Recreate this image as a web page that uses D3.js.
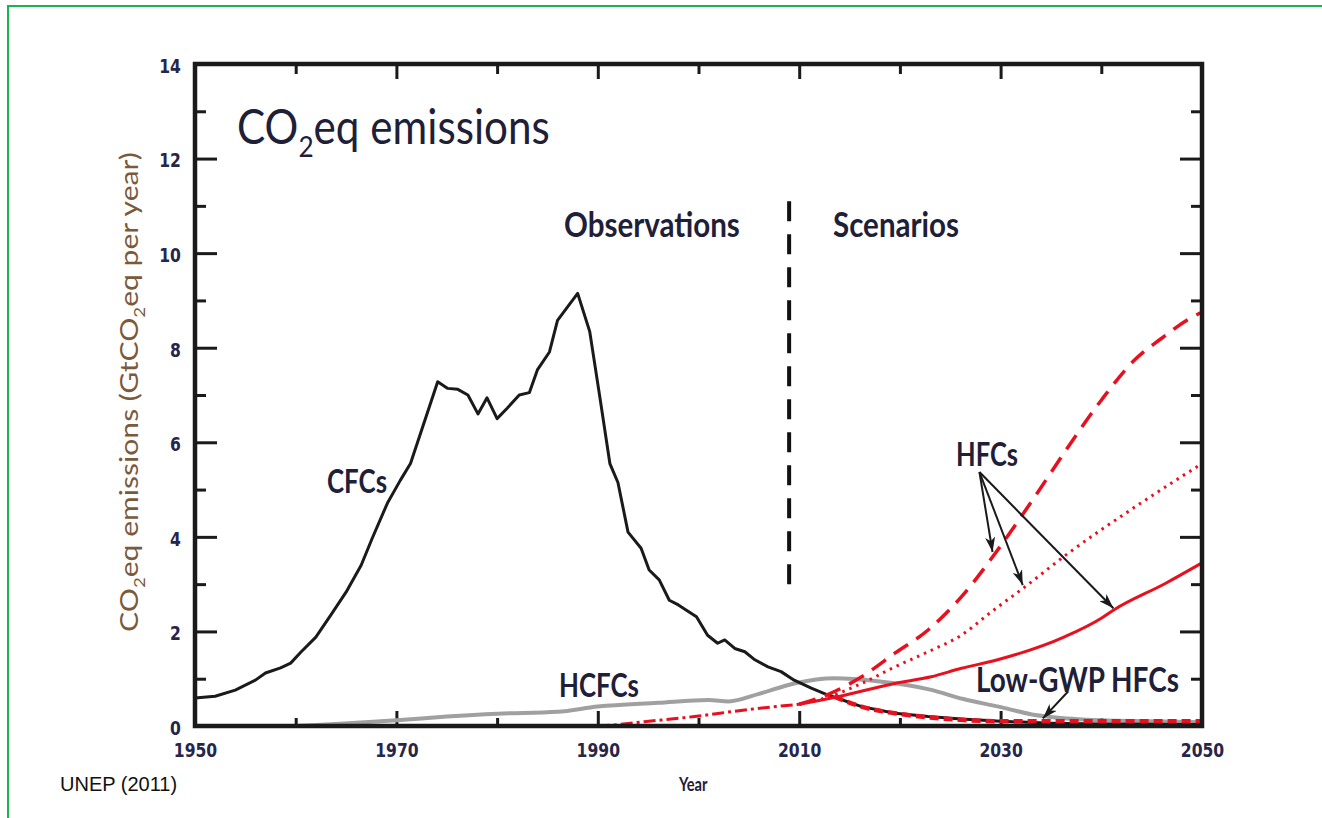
<!DOCTYPE html>
<meta charset="utf-8">
<head>
	<title> CO2eq emissions </title>
	<script src="https://cdn.jsdelivr.net/npm/d3@7"></script>
	<style>
		body { margin: 0; background: #fff; }
		.tick text { font-family: "DejaVu Sans", Verdana, sans-serif; font-weight: bold; font-size: 20px; fill: #26264a; }
		.tick line { stroke: #1a1a1a; stroke-width: 3; }
	</style>
</head>
<body>
<div id="chart"></div>
<script>

	// values (GtCO2eq per year)
	var cfcYears  = [1950, 1952, 1954, 1956, 1957, 1958.5, 1959.5, 1960.5, 1962, 1963.5, 1965, 1966.5, 1967.6, 1969.1, 1970.4, 1971.4, 1972.4, 1974.1, 1975.1, 1976.1, 1977.1, 1978.1, 1979, 1980, 1981, 1982.2, 1983.2, 1984, 1985.2, 1986, 1988, 1989.2, 1990.2, 1991.2, 1992, 1993, 1994.3, 1995.1, 1996.1, 1997.1, 1998, 1998.8, 1999.8, 2000.9, 2001.9, 2002.6, 2003.6, 2004.6, 2005.6, 2006.9, 2008.2, 2009.5, 2011.2, 2012.8, 2016.2, 2019.5, 2022.8, 2026.1, 2030, 2035, 2040, 2050];
	var cfcValues = [0.59, 0.63, 0.76, 0.97, 1.12, 1.23, 1.33, 1.56, 1.88, 2.35, 2.83, 3.4, 3.97, 4.71, 5.2, 5.55, 6.19, 7.28, 7.14, 7.12, 7.0, 6.6, 6.94, 6.5, 6.72, 7.0, 7.05, 7.53, 7.91, 8.58, 9.15, 8.34, 6.96, 5.55, 5.15, 4.1, 3.76, 3.3, 3.09, 2.66, 2.56, 2.45, 2.31, 1.92, 1.75, 1.82, 1.64, 1.57, 1.4, 1.25, 1.15, 0.97, 0.8, 0.66, 0.41, 0.27, 0.2, 0.15, 0.1, 0.06, 0.04, 0.03];

	var hcfcYears  = [1960, 1963, 1966, 1970, 1975, 1980, 1986, 1990, 1996, 2001, 2003, 2006, 2009.5, 2013.5, 2018, 2023, 2026.3, 2029.8, 2033, 2035, 2040, 2045, 2050];
	var hcfcValues = [0.0, 0.03, 0.07, 0.12, 0.2, 0.26, 0.3, 0.41, 0.49, 0.55, 0.52, 0.68, 0.9, 1.01, 0.94, 0.77, 0.57, 0.41, 0.25, 0.19, 0.12, 0.1, 0.08];

	var hfcObsYears  = [1990, 1992, 1994.6, 1999.6, 2004.6, 2010];
	var hfcObsValues = [0.0, 0.03, 0.09, 0.2, 0.34, 0.46];

	var hfcHighYears  = [2010, 2013, 2016.2, 2019.5, 2022.8, 2026.1, 2029.7, 2033.4, 2036.7, 2040, 2043.3, 2046, 2048.8, 2050];
	var hfcHighValues = [0.46, 0.68, 1.04, 1.54, 2.03, 2.73, 3.72, 4.85, 5.9, 6.89, 7.74, 8.2, 8.62, 8.75];

	var hfcMidYears  = [2010, 2013, 2016.2, 2019.5, 2022.8, 2026.1, 2029, 2032.4, 2036.7, 2043.4, 2050];
	var hfcMidValues = [0.46, 0.62, 0.9, 1.25, 1.57, 1.92, 2.4, 2.94, 3.65, 4.64, 5.55];

	var hfcLowYears  = [2010, 2013.8, 2019.5, 2023.1, 2026.1, 2029.7, 2036.4, 2040, 2041.2, 2046.4, 2050];
	var hfcLowValues = [0.46, 0.62, 0.9, 1.04, 1.22, 1.4, 1.89, 2.28, 2.45, 3.02, 3.45];

	var lowGwpYears  = [2013.5, 2016, 2019.5, 2023, 2026, 2030, 2035, 2040, 2045, 2050];
	var lowGwpValues = [0.62, 0.42, 0.27, 0.18, 0.13, 0.1, 0.1, 0.1, 0.1, 0.1];

	// annotation anchors, in data units [year, value]
	var dividerYear = 2009;
	var dividerRange = [2.8, 11.1];
	var hfcArrowFrom = [2027.9, 5.37];
	var hfcArrowTips = [[2029.2, 3.68], [2032.2, 2.98], [2041.2, 2.49]];
	var lowGwpArrowFrom = [2036.7, 0.73];
	var lowGwpArrowTip = [2034.2, 0.16];

	var yMajor = [0, 2, 4, 6, 8, 10, 12, 14];
	var yMinor = [1, 3, 5, 7, 9, 11, 13];
	var xMajor = [1950, 1970, 1990, 2010, 2030, 2050];
	var xMinor = [1960, 1980, 2000, 2020, 2040];

	var width = 1322, height = 818;
	var plotLeft = 195, plotRight = 1202, plotTop = 64, plotBottom = 726;

	var svg = d3.select("#chart").append("svg")
		.attr("width", width)
		.attr("height", height)
		.style("font-family", "Lato, 'Open Sans', sans-serif");

	// green frame round the picture
	svg.append("path")
		.attr("d", "M8,818 L8,6 L1322,6")
		.attr("fill", "none")
		.attr("stroke", "#1db150")
		.attr("stroke-width", 2);

	var x = d3.scaleLinear().domain([1950, 2050]).range([plotLeft, plotRight]);
	var y = d3.scaleLinear().domain([0, 14]).range([plotBottom, plotTop]);

	// axes, ticks pointing inwards
	var squeeze = "scale(0.78,1)";
	svg.append("g").attr("transform", "translate(" + plotLeft + ",0)")
		.call(d3.axisLeft(y).tickValues(yMajor).tickSizeInner(-22).tickSizeOuter(0).tickPadding(18))
		.selectAll("text").attr("dy", "0.42em").attr("transform", squeeze);
	svg.append("g").attr("transform", "translate(" + plotLeft + ",0)")
		.call(d3.axisLeft(y).tickValues(yMinor).tickSizeInner(-11).tickSizeOuter(0).tickFormat(""));
	svg.append("g").attr("transform", "translate(" + plotRight + ",0)")
		.call(d3.axisRight(y).tickValues(yMajor).tickSizeInner(-22).tickSizeOuter(0).tickFormat(""));
	svg.append("g").attr("transform", "translate(" + plotRight + ",0)")
		.call(d3.axisRight(y).tickValues(yMinor).tickSizeInner(-11).tickSizeOuter(0).tickFormat(""));
	svg.append("g").attr("transform", "translate(0," + plotBottom + ")")
		.call(d3.axisBottom(x).tickValues(xMajor).tickSizeInner(-15).tickSizeOuter(0).tickPadding(17).tickFormat(d3.format("d")))
		.selectAll("text").attr("transform", squeeze);
	svg.append("g").attr("transform", "translate(0," + plotBottom + ")")
		.call(d3.axisBottom(x).tickValues(xMinor).tickSizeInner(-8).tickSizeOuter(0).tickFormat(""));
	svg.append("g").attr("transform", "translate(0," + plotTop + ")")
		.call(d3.axisTop(x).tickValues(xMajor).tickSizeInner(-15).tickSizeOuter(0).tickFormat(""));
	svg.append("g").attr("transform", "translate(0," + plotTop + ")")
		.call(d3.axisTop(x).tickValues(xMinor).tickSizeInner(-10).tickSizeOuter(0).tickFormat(""));
	svg.selectAll(".domain").remove();

	// series
	var linear = d3.line().x(function(d){ return x(d[0]); }).y(function(d){ return y(d[1]); });
	var smooth = d3.line().x(function(d){ return x(d[0]); }).y(function(d){ return y(d[1]); }).curve(d3.curveMonotoneX);

	function series(years, values, gen, color, w, dash) {
		svg.append("path")
			.datum(d3.zip(years, values))
			.attr("d", gen)
			.attr("fill", "none")
			.attr("stroke", color)
			.attr("stroke-width", w)
			.attr("stroke-linejoin", "round")
			.attr("stroke-dasharray", dash);
	}
	var red = "#e8101e";
	series(hcfcYears, hcfcValues, smooth, "#a0a0a0", 4, null);
	series(cfcYears, cfcValues, linear, "#1a1a1a", 3, null);
	series(hfcObsYears, hfcObsValues, smooth, red, 3, "12,4,3,4");
	series(lowGwpYears, lowGwpValues, smooth, red, 4.5, "9,5");
	series(hfcHighYears, hfcHighValues, smooth, red, 3.5, "17,10");
	series(hfcMidYears, hfcMidValues, smooth, red, 3, "2.5,5");
	series(hfcLowYears, hfcLowValues, smooth, red, 3, null);

	// frame
	svg.append("rect")
		.attr("x", plotLeft).attr("y", plotTop)
		.attr("width", plotRight - plotLeft).attr("height", plotBottom - plotTop)
		.attr("fill", "none")
		.attr("stroke", "#1a1a1a")
		.attr("stroke-width", 4.5);

	// observations / scenarios divider
	svg.append("line")
		.attr("x1", x(dividerYear)).attr("x2", x(dividerYear))
		.attr("y1", y(dividerRange[1])).attr("y2", y(dividerRange[0]))
		.attr("stroke", "#111")
		.attr("stroke-width", 4)
		.attr("stroke-dasharray", "20,13");

	// arrows
	svg.append("defs").append("marker")
		.attr("id", "head")
		.attr("viewBox", "-15 -5 15 10")
		.attr("refX", 0).attr("refY", 0)
		.attr("markerWidth", 15).attr("markerHeight", 10)
		.attr("markerUnits", "userSpaceOnUse")
		.attr("orient", "auto")
		.append("path").attr("d", "M0,0 L-15,-5 L-11,0 L-15,5 Z").attr("fill", "#1a1a1a");

	var arrows = hfcArrowTips.map(function(t){ return [hfcArrowFrom, t]; });
	arrows.push([lowGwpArrowFrom, lowGwpArrowTip]);
	svg.selectAll(".arrow").data(arrows).enter().append("line")
		.attr("class", "arrow")
		.attr("x1", function(d){ return x(d[0][0]); })
		.attr("y1", function(d){ return y(d[0][1]); })
		.attr("x2", function(d){ return x(d[1][0]); })
		.attr("y2", function(d){ return y(d[1][1]); })
		.attr("stroke", "#1a1a1a")
		.attr("stroke-width", 2)
		.attr("marker-end", "url(#head)");

	// text, squeezed to the width it has in the picture
	function label(parts, x0, y0, w, size, weight, color, rot) {
		var g = svg.append("g");
		var t = g.append("text")
			.attr("font-size", size)
			.attr("font-weight", weight)
			.attr("fill", color)
			.attr("text-anchor", rot ? "middle" : "start");
		parts.forEach(function(p){
			if (p.sub) {
				t.append("tspan").attr("font-size", size * 0.62).attr("dy", size * 0.28).text(p.sub);
			} else {
				t.append("tspan").attr("dy", p.up ? -size * 0.28 : 0).text(p.t);
			}
		});
		var k = w / t.node().getBBox().width;
		g.attr("transform", "translate(" + x0 + "," + y0 + ")" + (rot ? " rotate(-90)" : "") + " scale(" + k + ",1)");
		return g;
	}
	var ink = "#1e2038";
	label([{t: "CO"}, {sub: "2"}, {t: "eq emissions", up: true}], 237, 144, 313, 48, "normal", ink);
	label([{t: "Observations"}], 564, 237, 176, 35, "bold", ink);
	label([{t: "Scenarios"}], 833, 237, 126, 35, "bold", ink);
	label([{t: "CFCs"}], 327, 493, 60, 32, "bold", ink);
	label([{t: "HFCs"}], 956, 466, 62, 32, "bold", ink);
	label([{t: "HCFCs"}], 559, 697, 80, 33, "bold", ink);
	label([{t: "Low-GWP HFCs"}], 976, 692, 203, 34, "bold", ink);
	label([{t: "Year"}], 679, 791, 30, 19, "bold", ink);
	label([{t: "CO"}, {sub: "2"}, {t: "eq emissions (GtCO", up: true}, {sub: "2"}, {t: "eq per year)", up: true}], 138, 392, 480, 25, "normal", "#7a5a3a", true);

	svg.append("text")
		.attr("x", 60).attr("y", 791)
		.style("font-family", "'Liberation Sans', Arial, sans-serif")
		.attr("font-size", 20)
		.attr("fill", "#111")
		.text("UNEP (2011)");

</script>
</body>
</html>
